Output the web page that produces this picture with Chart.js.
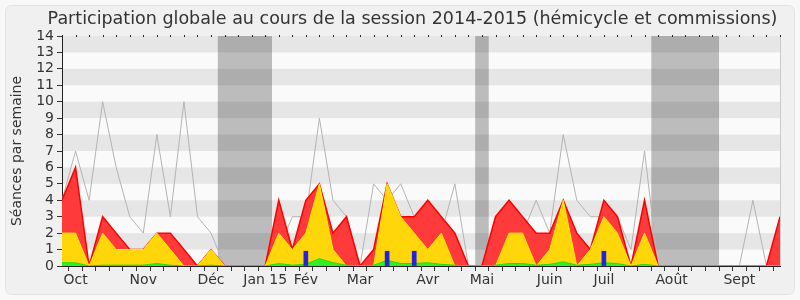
<!DOCTYPE html>
<html>
<head>
<meta charset="utf-8">
<script src="https://cdn.jsdelivr.net/npm/chart.js@4/dist/chart.umd.min.js"></script>
<style>
  html, body { margin: 0; padding: 0; background: #f8f8f8; }
  #chart { display: block; }
</style>
</head>
<body>
<canvas id="chart" width="800" height="300"></canvas>
<script>
// weekly values, session 2014-2015 (week 0 = end of Sept 2014)
var totalSeances = [4, 6, 0, 3, 2, 1, 1, 2, 2, 1, 0, 1, 0, 0, 0, 0, 4, 1, 4, 5, 2, 3, 0, 1, 5, 3, 3, 4, 3, 2, 0, 0, 3, 4, 3, 2, 2, 4, 2, 1, 4, 3, 0, 4, 0, 0, 0, 0, 0, 0, 0, 0, 0, 3];
var hemicycle = [2, 2, 0, 2, 1, 1, 1, 2, 1, 0, 0, 1, 0, 0, 0, 0, 2, 1, 2, 5, 1, 0, 0, 0, 5, 3, 2, 1, 2, 0, 0, 0, 0, 2, 2, 0, 1, 4, 0, 1, 3, 2, 0, 2, 0, 0, 0, 0, 0, 0, 0, 0, 0, 0];
var interventions = [0.2, 0.2, 0, 0.05, 0.05, 0.05, 0.05, 0.15, 0.05, 0, 0, 0.05, 0, 0, 0, 0, 0.15, 0.05, 0.1, 0.45, 0.2, 0.05, 0, 0.05, 0.35, 0.15, 0.15, 0.2, 0.1, 0.05, 0, 0, 0.05, 0.15, 0.15, 0.05, 0.1, 0.25, 0.05, 0.1, 0.2, 0.15, 0, 0.1, 0, 0, 0, 0, 0, 0, 0, 0, 0, 0];
var mediane = [4, 7, 4, 10, 6, 3, 2, 8, 3, 10, 3, 2, 0, 0, 0, 0, 1, 3, 3, 9, 4, 3, 0, 5, 4, 5, 3, 3, 2, 5, 0, 0, 2, 3, 2, 4, 2, 8, 4, 3, 3, 3, 1, 7, 0, 0, 0, 0, 0, 0, 0, 4, 0, 2];

var questionWeeks = [18, 24, 26, 40];
var questionValues = [0.9, 0.9, 0.9, 0.9];

var monthWeeks = [1, 6, 11, 15, 18, 22, 27, 31, 36, 40, 45, 50];
var monthLabels = ['Oct', 'Nov', 'Déc', 'Jan 15', 'Fév', 'Mar', 'Avr', 'Mai', 'Juin', 'Juil', 'Août', 'Sept'];

var vacStart = [11.5, 30.5, 43.5];
var vacEnd = [15.5, 31.5, 48.5];

var chartTitle = 'Participation globale au cours de la session 2014-2015 (hémicycle et commissions)';

function toPoints(arr) {
    return arr.map(function(v, i) { return {x: i, y: v}; });
}

var backdrop = {
    id: 'backdrop',
    beforeDraw: function(chart) {
        var ctx = chart.ctx, a = chart.chartArea;
        var xs = chart.scales.x, ys = chart.scales.y;
        ctx.save();
        // frame
        ctx.fillStyle = '#f0f0f0';
        ctx.strokeStyle = '#e2e2e2';
        ctx.lineWidth = 1;
        ctx.beginPath();
        ctx.roundRect(5.5, 5.5, 789, 289, 6);
        ctx.fill();
        ctx.stroke();
        // title, centred a bit right like the original
        ctx.fillStyle = '#333333';
        ctx.font = '17.5px "DejaVu Sans"';
        ctx.textAlign = 'center';
        ctx.textBaseline = 'middle';
        ctx.fillText(chartTitle, 412.5, 19);
        // plot background
        ctx.fillStyle = '#fafafa';
        ctx.fillRect(a.left, a.top, a.right - a.left, a.bottom - a.top);
        // vacations
        ctx.fillStyle = '#bcbcbc';
        for (var i = 0; i < vacStart.length; i++) {
            var x0 = xs.getPixelForValue(vacStart[i]);
            var x1 = xs.getPixelForValue(vacEnd[i]);
            ctx.fillRect(x0, a.top, x1 - x0, a.bottom - a.top);
        }
        // stripes
        ctx.fillStyle = 'rgba(0,0,0,0.08)';
        for (var k = 1; k < 14; k += 2) {
            var y0 = ys.getPixelForValue(k + 1);
            var y1 = ys.getPixelForValue(k);
            ctx.fillRect(a.left, y0, a.right - a.left, y1 - y0);
        }
        // right border
        ctx.strokeStyle = '#cccccc';
        ctx.beginPath();
        ctx.moveTo(a.right + 0.5, a.top);
        ctx.lineTo(a.right + 0.5, a.bottom);
        ctx.stroke();
        // small week marks along the top
        ctx.fillStyle = '#222222';
        xs.ticks.forEach(function(t) {
            ctx.fillRect(Math.round(xs.getPixelForValue(t.value)), a.top - 1, 1, 2);
        });
        ctx.restore();
    }
};

var weekTicks = function(scale) {
    scale.ticks = totalSeances.map(function(v, i) { return {value: i}; });
};

var ctx = document.getElementById('chart').getContext('2d');
new Chart(ctx, {
    type: 'line',
    data: {
        datasets: [{
            type: 'bar',
            data: questionWeeks.map(function(w, i) { return {x: w, y: questionValues[i]}; }),
            backgroundColor: '#2323dd',
            barThickness: 4,
            order: 1
        }, {
            data: toPoints(interventions),
            borderColor: '#22dd00',
            backgroundColor: '#33ee22',
            borderWidth: 1,
            fill: 'origin',
            order: 2
        }, {
            data: toPoints(hemicycle),
            borderColor: '#ffee00',
            backgroundColor: '#ffd60a',
            borderWidth: 1,
            fill: 'origin',
            order: 3
        }, {
            data: toPoints(totalSeances),
            borderColor: '#ff0000',
            backgroundColor: '#ff3a3a',
            borderWidth: 1.5,
            fill: 'origin',
            order: 4
        }, {
            data: toPoints(mediane),
            borderColor: '#b4b4b4',
            borderWidth: 1,
            fill: false,
            order: 5
        }]
    },
    options: {
        responsive: false,
        animation: false,
        layout: { padding: { left: 5, right: 20, top: 36, bottom: 0 } },
        elements: { point: { radius: 0 }, line: { tension: 0 } },
        plugins: {
            legend: { display: false },
            tooltip: { enabled: false },
            title: { display: false }
        },
        scales: {
            x: {
                type: 'linear',
                min: 0,
                max: 53,
                offset: false,
                afterBuildTicks: weekTicks,
                afterFit: function(scale) { scale.height = 34; },
                grid: { drawOnChartArea: false, tickLength: 5, color: '#333333' },
                border: { color: '#222222', width: 1 },
                ticks: {
                    autoSkip: false,
                    maxRotation: 0,
                    padding: 1,
                    color: '#333333',
                    font: { family: 'DejaVu Sans', size: 14 },
                    callback: function(v) {
                        var j = monthWeeks.indexOf(v);
                        return j >= 0 ? monthLabels[j] : '';
                    }
                }
            },
            y: {
                min: 0,
                max: 14,
                afterFit: function(scale) { scale.width = 57; },
                grid: { drawOnChartArea: false, tickLength: 5, color: '#333333' },
                border: { color: '#222222', width: 1 },
                ticks: {
                    stepSize: 1,
                    autoSkip: false,
                    padding: 3,
                    color: '#333333',
                    font: { family: 'DejaVu Sans', size: 14 }
                },
                title: {
                    display: true,
                    text: 'Séances par semaine',
                    color: '#333333',
                    font: { family: 'DejaVu Sans', size: 14 },
                    padding: { top: 4, bottom: 2 }
                }
            }
        }
    },
    plugins: [backdrop]
});
</script>
</body>
</html>
